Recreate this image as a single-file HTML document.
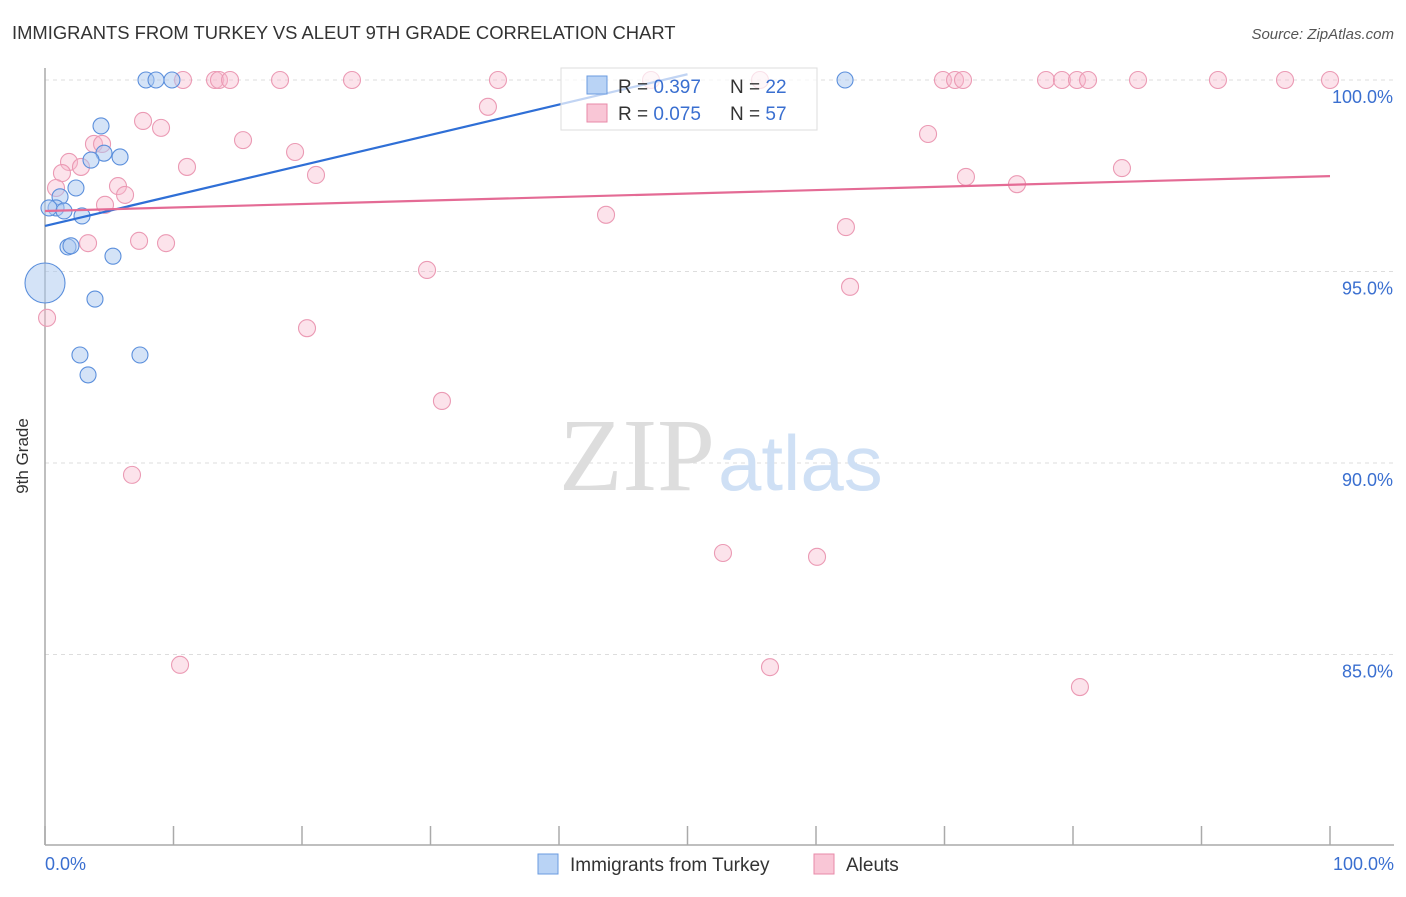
<!DOCTYPE html>
<html><head><meta charset="utf-8"><style>
body{margin:0;background:#fff;font-family:"Liberation Sans",sans-serif}
</style></head><body>
<svg width="1406" height="892" viewBox="0 0 1406 892">
<text x="12" y="39" font-size="18.4" fill="#333">IMMIGRANTS FROM TURKEY VS ALEUT 9TH GRADE CORRELATION CHART</text>
<text x="1394" y="39" font-size="15" fill="#555" font-style="italic" text-anchor="end">Source: ZipAtlas.com</text>
<g id="grid"></g>
<text x="715" y="490" font-size="104" fill="#ddd" text-anchor="end" font-family="Liberation Serif,serif">ZIP</text>
<text x="718" y="490" font-size="78" fill="#cfe0f5" font-family="Liberation Sans,sans-serif">atlas</text>
<line x1="45" y1="68" x2="45" y2="845" stroke="#aaa" stroke-width="1.5"/>
<line x1="45" y1="845" x2="1394" y2="845" stroke="#aaa" stroke-width="1.5"/>
<g id="xt"></g>
<g id="pts"></g>
<g id="trend"></g>
<g>
<rect x="561" y="68" width="256" height="62" fill="#fff" fill-opacity="0.7" stroke="#ddd"/>
<rect x="587" y="76" width="20" height="18" fill="#b9d3f5" stroke="#6a9be0"/>
<rect x="587" y="104" width="20" height="18" fill="#f9c6d6" stroke="#e88aa8"/>
<text x="618" y="93" font-size="19" fill="#333">R = <tspan fill="#3a6fd0">0.397</tspan></text>
<text x="730" y="93" font-size="19" fill="#333">N = <tspan fill="#3a6fd0">22</tspan></text>
<text x="618" y="120" font-size="19" fill="#333">R = <tspan fill="#3a6fd0">0.075</tspan></text>
<text x="730" y="120" font-size="19" fill="#333">N = <tspan fill="#3a6fd0">57</tspan></text>
</g>
<text x="28" y="456" font-size="17" fill="#333" text-anchor="middle" transform="rotate(-90 28 456)">9th Grade</text>
<text x="45" y="870" font-size="18" fill="#3a6fd0">0.0%</text>
<text x="1394" y="870" font-size="18" fill="#3a6fd0" text-anchor="end">100.0%</text>
<g>
<rect x="538" y="854" width="20" height="20" fill="#b9d3f5" stroke="#6a9be0"/>
<text x="570" y="871" font-size="19" fill="#333">Immigrants from Turkey</text></g>
<g>
<rect x="814" y="854" width="20" height="20" fill="#f9c6d6" stroke="#e88aa8"/>
<text x="846" y="871" font-size="19" fill="#333">Aleuts</text></g>
</svg>
<script>
const blueX=[7.86,8.64,9.88,62.26,4.36,4.59,3.58,5.84,2.41,1.17,0.86,0.31,1.48,2.88,1.79,2.02,5.29,0,3.89,2.72,7.39,3.35];
const blueY=[100,100,100,100,98.80,98.09,97.91,97.99,97.18,96.95,96.66,96.66,96.58,96.45,95.64,95.67,95.40,94.70,94.28,92.82,92.82,92.30];
const blueR=[8,8,8,8,8,8,8,8,8,8,8,8,8,8,8,8,8,20,8,8,8,8];
const pinkX=[10.74,13.23,13.54,14.40,18.29,23.89,35.25,47.16,55.64,69.88,70.82,71.44,77.9,79.14,80.31,81.17,85.06,91.28,96.5,100,34.47,7.63,9.03,15.41,68.72,3.81,4.44,19.46,1.87,2.80,1.32,11.05,21.09,0.86,5.68,6.23,71.67,75.64,83.81,4.67,43.66,62.33,3.35,7.32,9.42,29.73,62.65,0.16,20.39,30.89,6.77,52.76,60.08,10.51,56.42,80.54];
const pinkY=[100,100,100,100,100,100,100,100,100,100,100,100,100,100,100,100,100,100,100,100,99.30,98.93,98.75,98.43,98.59,98.33,98.33,98.12,97.86,97.73,97.57,97.73,97.52,97.18,97.23,97.0,97.47,97.28,97.70,96.74,96.48,96.16,95.74,95.80,95.74,95.04,94.60,93.79,93.52,91.62,89.69,87.65,87.55,84.73,84.67,84.15];
const yTicks=[100,95,90,85];
const yTickLabels=["100.0%","95.0%","90.0%","85.0%"];
const xTicks=[0,10,20,30,40,50,60,70,80,90,100];
const blueTrend=[[0,96.19],[50,100.15]];
const pinkTrend=[[0,96.58],[100,97.49]];
const NS="http://www.w3.org/2000/svg";
const sx=v=>45+v*12.85, sy=v=>80+(100-v)*38.3;
function mk(t,a,p){const e=document.createElementNS(NS,t);for(const k in a)e.setAttribute(k,a[k]);document.getElementById(p).appendChild(e);return e;}
yTicks.forEach((t,i)=>{
 const l=mk('line',{x1:45,x2:1394,y1:sy(t),y2:sy(t),stroke:'#ddd','stroke-dasharray':'4,4'},'grid');
 
 
 const tx=mk('text',{x:1393,y:sy(t)+23,'font-size':18,fill:'#3a6fd0','text-anchor':'end'},'grid');
 tx.textContent=yTickLabels[i];
 
 
});
xTicks.forEach(t=>{
 const l=mk('line',{x1:sx(t),x2:sx(t),y1:826,y2:845,stroke:'#aaa','stroke-width':1.5},'xt');
 
 
});
pinkX.forEach((x,i)=>{
 const c=mk('circle',{cx:sx(x),cy:sy(pinkY[i]),r:8.5,fill:'#f7b8cc','fill-opacity':0.4,stroke:'#eb9ab4','stroke-width':1.1},'pts');
 
 
});
blueX.forEach((x,i)=>{
 const c=mk('circle',{cx:sx(x),cy:sy(blueY[i]),r:blueR[i],fill:'#a9c8f0','fill-opacity':0.5,stroke:'#5b8fdc','stroke-width':1.1},'pts');
 
 
});
const bl=mk('line',{x1:sx(blueTrend[0][0]),y1:sy(blueTrend[0][1]),x2:sx(blueTrend[1][0]),y2:sy(blueTrend[1][1]),stroke:'#2f6fd6','stroke-width':2.2},'trend');


const pl=mk('line',{x1:sx(pinkTrend[0][0]),y1:sy(pinkTrend[0][1]),x2:sx(pinkTrend[1][0]),y2:sy(pinkTrend[1][1]),stroke:'#e46b95','stroke-width':2.2},'trend');


</script>
</body></html>
